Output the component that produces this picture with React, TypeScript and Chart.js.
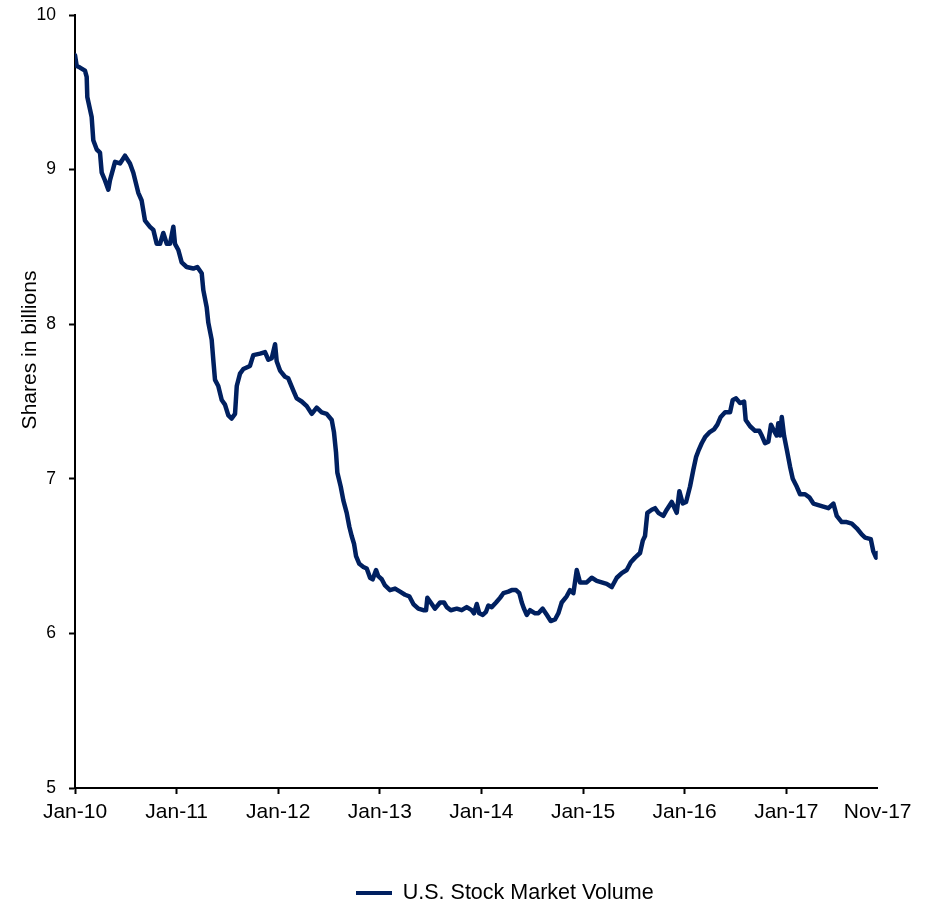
import React, { useEffect, useRef } from 'react';
import { Chart, registerables } from 'chart.js';

Chart.register(...registerables);

// Decimal-year position of each reading (Jan-10 = 2010.0)
const dates: number[] = [
  2010.000, 2010.017, 2010.049, 2010.098, 2010.115, 2010.121, 2010.164, 2010.180, 2010.214, 2010.246,
  2010.263, 2010.295, 2010.328, 2010.344, 2010.394, 2010.443, 2010.492, 2010.541, 2010.574, 2010.623,
  2010.656, 2010.689, 2010.738, 2010.771, 2010.804, 2010.837, 2010.869, 2010.903, 2010.935, 2010.968,
  2010.984, 2011.017, 2011.050, 2011.099, 2011.164, 2011.204, 2011.247, 2011.263, 2011.296, 2011.312,
  2011.345, 2011.361, 2011.378, 2011.410, 2011.444, 2011.476, 2011.509, 2011.542, 2011.575, 2011.592,
  2011.624, 2011.657, 2011.722, 2011.755, 2011.821, 2011.870, 2011.903, 2011.936, 2011.969, 2011.985,
  2012.018, 2012.067, 2012.099, 2012.149, 2012.182, 2012.231, 2012.281, 2012.330, 2012.379, 2012.428,
  2012.477, 2012.527, 2012.549, 2012.569, 2012.582, 2012.615, 2012.641, 2012.674, 2012.700, 2012.723,
  2012.746, 2012.766, 2012.798, 2012.838, 2012.871, 2012.904, 2012.930, 2012.963, 2012.985, 2013.019,
  2013.051, 2013.100, 2013.150, 2013.199, 2013.248, 2013.290, 2013.330, 2013.379, 2013.428, 2013.455,
  2013.468, 2013.501, 2013.543, 2013.593, 2013.632, 2013.659, 2013.698, 2013.757, 2013.806, 2013.855,
  2013.904, 2013.927, 2013.954, 2013.979, 2014.013, 2014.045, 2014.068, 2014.101, 2014.144, 2014.183,
  2014.216, 2014.265, 2014.298, 2014.341, 2014.373, 2014.397, 2014.419, 2014.446, 2014.478, 2014.528,
  2014.560, 2014.603, 2014.643, 2014.682, 2014.724, 2014.757, 2014.790, 2014.839, 2014.872, 2014.905,
  2014.938, 2014.970, 2015.036, 2015.086, 2015.135, 2015.184, 2015.233, 2015.283, 2015.332, 2015.381,
  2015.430, 2015.470, 2015.512, 2015.561, 2015.588, 2015.610, 2015.633, 2015.676, 2015.709, 2015.741,
  2015.790, 2015.824, 2015.873, 2015.922, 2015.948, 2015.981, 2016.014, 2016.053, 2016.086, 2016.112,
  2016.135, 2016.168, 2016.201, 2016.243, 2016.289, 2016.322, 2016.355, 2016.398, 2016.447, 2016.473,
  2016.506, 2016.545, 2016.585, 2016.601, 2016.644, 2016.693, 2016.735, 2016.759, 2016.791, 2016.824,
  2016.850, 2016.880, 2016.906, 2016.922, 2016.939, 2016.956, 2016.978, 2017.005, 2017.037, 2017.064,
  2017.103, 2017.136, 2017.185, 2017.227, 2017.267, 2017.316, 2017.365, 2017.415, 2017.464, 2017.497,
  2017.546, 2017.595, 2017.645, 2017.694, 2017.743, 2017.776, 2017.832, 2017.857, 2017.884, 2017.897,
];

// Shares traded, in billions
const volume: number[] = [
  9.74, 9.67, 9.66, 9.64, 9.60, 9.47, 9.34, 9.19, 9.13, 9.11,
  8.98, 8.93, 8.87, 8.93, 9.05, 9.04, 9.09, 9.04, 8.98, 8.85,
  8.80, 8.67, 8.63, 8.61, 8.52, 8.52, 8.59, 8.52, 8.52, 8.63,
  8.52, 8.48, 8.40, 8.37, 8.36, 8.37, 8.33, 8.22, 8.11, 8.01,
  7.90, 7.77, 7.64, 7.60, 7.51, 7.48, 7.41, 7.39, 7.42, 7.60,
  7.68, 7.71, 7.73, 7.80, 7.81, 7.82, 7.77, 7.78, 7.87, 7.76,
  7.70, 7.66, 7.65, 7.57, 7.52, 7.50, 7.47, 7.42, 7.46, 7.43,
  7.42, 7.38, 7.30, 7.17, 7.04, 6.95, 6.86, 6.78, 6.69, 6.63,
  6.58, 6.50, 6.45, 6.43, 6.42, 6.36, 6.35, 6.41, 6.37, 6.35,
  6.31, 6.28, 6.29, 6.27, 6.25, 6.24, 6.19, 6.16, 6.15, 6.15,
  6.23, 6.20, 6.16, 6.20, 6.20, 6.17, 6.15, 6.16, 6.15, 6.17,
  6.15, 6.13, 6.19, 6.13, 6.12, 6.14, 6.18, 6.17, 6.20, 6.23,
  6.26, 6.27, 6.28, 6.28, 6.26, 6.20, 6.16, 6.12, 6.15, 6.13,
  6.13, 6.16, 6.12, 6.08, 6.09, 6.13, 6.20, 6.24, 6.28, 6.26,
  6.41, 6.33, 6.33, 6.36, 6.34, 6.33, 6.32, 6.30, 6.36, 6.39,
  6.41, 6.46, 6.49, 6.52, 6.60, 6.63, 6.78, 6.80, 6.81, 6.78,
  6.76, 6.80, 6.85, 6.78, 6.92, 6.84, 6.85, 6.95, 7.06, 7.14,
  7.18, 7.23, 7.27, 7.30, 7.32, 7.35, 7.40, 7.43, 7.43, 7.51,
  7.52, 7.49, 7.50, 7.38, 7.34, 7.31, 7.31, 7.28, 7.23, 7.24,
  7.35, 7.31, 7.28, 7.36, 7.28, 7.40, 7.28, 7.19, 7.08, 7.00,
  6.95, 6.90, 6.90, 6.88, 6.84, 6.83, 6.82, 6.81, 6.84, 6.76,
  6.72, 6.72, 6.71, 6.68, 6.64, 6.62, 6.61, 6.53, 6.49, 6.52,
];

const xTickValues: number[] = [2010, 2011, 2012, 2013, 2014, 2015, 2016, 2017, 2017.9];
const xTickLabels: string[] = ['Jan-10', 'Jan-11', 'Jan-12', 'Jan-13', 'Jan-14', 'Jan-15', 'Jan-16', 'Jan-17', 'Nov-17'];
const yTickValues: number[] = [5, 6, 7, 8, 9, 10];
const seriesName = 'U.S. Stock Market Volume';
const yAxisTitle = 'Shares in billions';

const LINE_COLOR = '#002060';
const FONT = '"Liberation Sans", Arial, sans-serif';

const titlePlugin = {
  id: 'yTitle',
  afterDraw(chart: any) {
    const { ctx } = chart;
    ctx.save();
    ctx.translate(30, 350);
    ctx.rotate(-Math.PI / 2);
    ctx.font = `21px ${FONT}`;
    ctx.fillStyle = '#000';
    ctx.textAlign = 'center';
    ctx.textBaseline = 'middle';
    ctx.fillText(yAxisTitle, 0, 0);
    ctx.restore();
  },
};

const legendPlace = {
  id: 'legendPlace',
  afterLayout(chart: any) {
    const lg = chart.legend;
    if (!lg || !lg.lineWidths) return;
    const pad = 10;
    const fontSize = 21.5;
    const startX = (lg.left + pad + lg.right - lg.lineWidths[0]) / 2;
    const dx = 356 - startX;
    const dy = 893 - (lg.top + pad + fontSize / 2);
    lg.left += dx;
    lg.right += dx;
    lg.top += dy;
    lg.bottom += dy;
  },
};

export default function App() {
  const ref = useRef<HTMLCanvasElement | null>(null);

  useEffect(() => {
    document.body.style.margin = '0';
    if (!ref.current) return;
    const chart = new Chart(ref.current, {
      type: 'line',
      data: {
        datasets: [
          {
            label: seriesName,
            data: dates.map((d, i) => ({ x: d, y: volume[i] })),
            borderColor: LINE_COLOR,
            backgroundColor: LINE_COLOR,
            borderWidth: 4.5,
            borderJoinStyle: 'round',
            borderCapStyle: 'round',
            pointRadius: 0,
            tension: 0,
            fill: false,
          },
        ],
      },
      options: {
        animation: false,
        responsive: false,
        devicePixelRatio: 1,
        layout: { padding: { left: 0, top: 15, right: 58.3, bottom: 0 } },
        plugins: {
          tooltip: { enabled: false },
          legend: {
            display: true,
            position: 'bottom',
            labels: {
              boxWidth: 36,
              boxHeight: 4,
              padding: 10,
              color: '#000',
              font: { family: FONT, size: 21.5 },
              generateLabels: (c: any) =>
                Chart.defaults.plugins.legend.labels
                  .generateLabels(c)
                  .map((l: any) => ({ ...l, lineWidth: 0, fillStyle: LINE_COLOR })),
            },
          },
        },
        scales: {
          x: {
            type: 'linear',
            min: 2010,
            max: 2017.9,
            afterFit: (s: any) => {
              s.height = 74.5;
            },
            afterBuildTicks: (s: any) => {
              s.ticks = xTickValues.map((v) => ({ value: v }));
            },
            ticks: {
              autoSkip: false,
              maxRotation: 0,
              padding: 6,
              color: '#000',
              font: { family: FONT, size: 21 },
              callback: (_v: any, i: number) => xTickLabels[i],
            },
            grid: {
              drawOnChartArea: false,
              drawTicks: true,
              tickLength: 6,
              tickWidth: 2,
              tickColor: (c: any) => (c.index === xTickValues.length - 1 ? 'rgba(0,0,0,0)' : '#000'),
            },
            border: { display: true, color: '#000', width: 2 },
          },
          y: {
            type: 'linear',
            min: 5,
            max: 10,
            afterFit: (s: any) => {
              s.width = 75;
              s.paddingTop = 0;
              s.paddingBottom = 0;
            },
            afterBuildTicks: (s: any) => {
              s.ticks = yTickValues.map((v) => ({ value: v }));
            },
            ticks: {
              padding: 13,
              color: '#000',
              font: { family: FONT, size: 17.5 },
            },
            grid: {
              drawOnChartArea: false,
              drawTicks: true,
              tickLength: 6,
              tickWidth: 2,
              tickColor: '#000',
            },
            border: { display: true, color: '#000', width: 2 },
          },
        },
      },
      plugins: [titlePlugin, legendPlace],
    });
    return () => chart.destroy();
  }, []);

  return (
    <div style={{ width: 936, height: 904, background: '#fff' }}>
      <canvas ref={ref} width={936} height={904} style={{ display: 'block' }} />
    </div>
  );
}
